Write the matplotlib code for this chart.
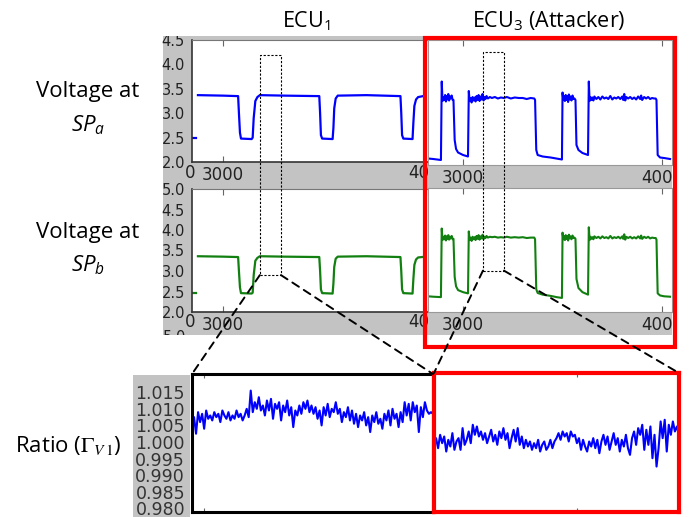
import matplotlib
matplotlib.use('Agg')
import matplotlib.pyplot as plt
import numpy as np
from matplotlib.patches import Rectangle, ConnectionPatch
from matplotlib.transforms import Bbox, TransformedBbox

# ---------------- data ----------------
ecu1_t = [2878, 3000, 3074, 3078, 3083, 3088, 3140, 3145, 3150, 3158, 3168, 3180, 3300,
          3470, 3474, 3478, 3484, 3535, 3539, 3543, 3550, 3560, 3700,
          3866, 3870, 3874, 3880, 3925, 3929, 3934, 3942, 3952, 3988]
spa_ecu1 = [3.37, 3.36, 3.35, 3.00, 2.60, 2.48, 2.47, 2.50, 2.90, 3.25, 3.33, 3.37, 3.36,
            3.35, 3.00, 2.55, 2.48, 2.47, 2.70, 3.10, 3.30, 3.36, 3.37,
            3.35, 3.00, 2.55, 2.48, 2.47, 2.80, 3.15, 3.28, 3.33, 3.36]
spb_ecu1 = [3.36, 3.35, 3.34, 3.00, 2.60, 2.46, 2.45, 2.47, 2.90, 3.25, 3.32, 3.36, 3.35,
            3.34, 3.00, 2.55, 2.46, 2.45, 2.70, 3.10, 3.30, 3.35, 3.36,
            3.34, 3.00, 2.55, 2.46, 2.45, 2.80, 3.15, 3.28, 3.33, 3.35]
edge_t = [2852, 2868]
spa_edge = [2.50, 2.50]
spb_edge = [2.47, 2.47]

ecu3_t = [2824, 2850, 2889, 2893, 2897, 2902, 2906, 2910, 2914, 2918,
          2922, 2926, 2930, 2934, 2938, 2943, 2948, 2952, 2958, 2965,
          2975, 3000, 3025, 3029, 3033, 3038, 3043, 3048, 3053, 3058,
          3063, 3068, 3073, 3078, 3083, 3088, 3093, 3098, 3103, 3108,
          3113, 3118, 3125, 3135, 3145, 3160, 3175, 3190, 3205, 3220,
          3240, 3260, 3280, 3300, 3320, 3340, 3358, 3362, 3368, 3375,
          3400, 3440, 3470, 3497, 3500, 3504, 3508, 3512, 3516, 3520,
          3524, 3528, 3532, 3536, 3540, 3545, 3550, 3555, 3560, 3565,
          3570, 3580, 3600, 3628, 3632, 3636, 3640, 3645, 3650, 3655,
          3660, 3670, 3680, 3690, 3700, 3710, 3720, 3730, 3740, 3750,
          3760, 3770, 3780, 3790, 3800, 3805, 3810, 3815, 3820, 3830,
          3840, 3850, 3860, 3870, 3880, 3890, 3895, 3900, 3910, 3920,
          3930, 3940, 3950, 3960, 3968, 3972, 3978, 3990, 4010, 4040]
spa_ecu3 = [2.13, 2.12, 2.10, 3.67, 3.28, 3.36, 3.30, 3.40, 3.27, 3.38,
            3.31, 3.42, 3.29, 3.37, 3.33, 3.39, 3.30, 3.30, 2.50, 2.32,
            2.25, 2.20, 2.17, 3.48, 3.28, 3.34, 3.25, 3.36, 3.29, 3.35,
            3.27, 3.38, 3.30, 3.40, 3.28, 3.37, 3.31, 3.42, 3.29, 3.36,
            3.32, 3.38, 3.33, 3.36, 3.34, 3.36, 3.33, 3.35, 3.34, 3.36,
            3.33, 3.35, 3.34, 3.34, 3.32, 3.34, 3.33, 3.30, 2.30, 2.20,
            2.17, 2.15, 2.13, 2.11, 3.45, 3.30, 3.38, 3.28, 3.40, 3.30,
            3.38, 3.26, 3.41, 3.31, 3.37, 3.29, 3.39, 3.32, 3.33, 3.30,
            2.40, 2.30, 2.24, 2.20, 3.67, 3.28, 3.36, 3.30, 3.35, 3.29,
            3.37, 3.32, 3.36, 3.31, 3.37, 3.33, 3.35, 3.32, 3.38, 3.31,
            3.35, 3.33, 3.36, 3.32, 3.37, 3.30, 3.42, 3.29, 3.36, 3.33,
            3.36, 3.32, 3.35, 3.31, 3.37, 3.32, 3.39, 3.30, 3.36, 3.33,
            3.36, 3.32, 3.34, 3.33, 3.33, 3.30, 2.20, 2.15, 2.14, 2.12]
spb_ecu3 = [2.38, 2.37, 2.36, 4.02, 3.74, 3.82, 3.76, 3.85, 3.73, 3.83,
            3.77, 3.86, 3.75, 3.82, 3.78, 3.84, 3.76, 3.77, 2.85, 2.62,
            2.53, 2.48, 2.45, 3.95, 3.74, 3.80, 3.72, 3.82, 3.76, 3.81,
            3.74, 3.84, 3.77, 3.86, 3.75, 3.83, 3.78, 3.87, 3.76, 3.82,
            3.79, 3.84, 3.80, 3.82, 3.81, 3.82, 3.80, 3.81, 3.80, 3.82,
            3.80, 3.81, 3.80, 3.81, 3.79, 3.80, 3.80, 3.76, 2.55, 2.46,
            2.42, 2.39, 2.36, 2.34, 3.92, 3.76, 3.84, 3.74, 3.86, 3.77,
            3.84, 3.73, 3.87, 3.78, 3.83, 3.76, 3.85, 3.79, 3.80, 3.77,
            2.80, 2.58, 2.48, 2.42, 4.05, 3.74, 3.82, 3.77, 3.81, 3.76,
            3.83, 3.79, 3.82, 3.78, 3.83, 3.79, 3.81, 3.78, 3.84, 3.78,
            3.81, 3.79, 3.82, 3.78, 3.83, 3.77, 3.88, 3.75, 3.82, 3.79,
            3.82, 3.78, 3.81, 3.78, 3.83, 3.78, 3.85, 3.77, 3.82, 3.79,
            3.82, 3.78, 3.80, 3.79, 3.79, 3.75, 2.45, 2.40, 2.38, 2.37]

ratio_ecu1 = [1.0030, 1.0075, 1.0025, 1.0090, 1.0060, 1.0085, 1.0040, 1.0095, 1.0070, 1.0080,
              1.0065, 1.0090, 1.0075, 1.0085, 1.0060, 1.0095, 1.0080, 1.0070, 1.0090, 1.0065,
              1.0080, 1.0070, 1.0095, 1.0075, 1.0085, 1.0065, 1.0080, 1.0100, 1.0075, 1.0155,
              1.0090, 1.0120, 1.0100, 1.0135, 1.0095, 1.0110, 1.0080, 1.0125, 1.0095, 1.0130,
              1.0070, 1.0115, 1.0100, 1.0120, 1.0065, 1.0110, 1.0090, 1.0125, 1.0080, 1.0105,
              1.0045, 1.0095, 1.0080, 1.0110, 1.0085, 1.0120, 1.0100, 1.0125, 1.0090, 1.0110,
              1.0085, 1.0105, 1.0070, 1.0095, 1.0050, 1.0105, 1.0080, 1.0115, 1.0075, 1.0100,
              1.0090, 1.0120, 1.0085, 1.0100, 1.0060, 1.0090, 1.0075, 1.0105, 1.0065, 1.0095,
              1.0055, 1.0085, 1.0045, 1.0080, 1.0065, 1.0090, 1.0050, 1.0075, 1.0030, 1.0080,
              1.0060, 1.0090, 1.0055, 1.0070, 1.0040, 1.0085, 1.0065, 1.0095, 1.0050, 1.0100,
              1.0070, 1.0085, 1.0045, 1.0090, 1.0060, 1.0120, 1.0080, 1.0115, 1.0065, 1.0120,
              1.0090, 1.0110, 1.0030, 1.0105, 1.0075, 1.0120, 1.0095, 1.0085, 1.0090, 1.0085]
ratio_ecu3 = [0.9990, 1.0010, 0.9980, 1.0020, 0.9995, 1.0015, 0.9970, 1.0005, 0.9985, 1.0025,
              0.9975, 1.0000, 1.0010, 0.9975, 1.0040, 0.9990, 1.0005, 1.0030, 0.9995, 1.0050,
              1.0020, 1.0045, 1.0015, 1.0030, 1.0005, 1.0025, 0.9995, 1.0015, 1.0035, 1.0000,
              1.0020, 0.9990, 1.0030, 1.0010, 1.0040, 1.0005, 1.0025, 0.9980, 1.0010, 1.0035,
              1.0000, 1.0040, 0.9990, 1.0015, 0.9980, 1.0005, 0.9985, 1.0000, 0.9975, 0.9995,
              0.9980, 1.0005, 0.9970, 0.9990, 1.0000, 0.9975, 0.9985, 1.0005, 0.9980, 1.0000,
              1.0010, 1.0025, 1.0005, 1.0030, 1.0015, 1.0025, 1.0000, 1.0030, 1.0015, 1.0020,
              0.9995, 1.0010, 0.9975, 1.0005, 0.9985, 0.9970, 1.0000, 0.9985, 1.0010, 0.9980,
              1.0005, 0.9965, 1.0000, 1.0020, 0.9990, 1.0015, 0.9975, 1.0000, 1.0025, 0.9990,
              1.0010, 0.9970, 1.0005, 0.9985, 1.0020, 0.9980, 0.9960, 1.0010, 1.0030, 0.9990,
              1.0040, 1.0020, 1.0050, 0.9975, 1.0035, 0.9990, 1.0045, 0.9950, 1.0020, 0.9925,
              0.9980, 1.0060, 1.0010, 1.0065, 0.9970, 1.0050, 1.0020, 1.0060, 1.0030, 1.0045,
              1.0020]

volt_a_ticks = [2.0, 2.5, 3.0, 3.5, 4.0, 4.5]
volt_b_ticks = [2.0, 2.5, 3.0, 3.5, 4.0, 4.5, 5.0]
time_ticks = [3000, 4000]
ecu1_time_labels = ['3000', '']      # the 4000 label is cut to "40" by the red frame
ecu3_time_labels = ['3000', '4000']
ratio_ticks = [0.980, 0.985, 0.990, 0.995, 1.000, 1.005, 1.010, 1.015]
ratio_l_xticks = [6]
ratio_r_xticks = [70]
ecu1_zoom_t = [3180, 3283]
ecu3_zoom_t = [3100, 3206]
zoom_a_top = [4.2, 4.26]     # top of the zoom windows (SPa panels, ECU1 / ECU3)
zoom_b_bot = [2.9, 3.0]      # bottom of the zoom windows (SPb panels, ECU1 / ECU3)

# ---------------- figure ----------------
W, H = 691, 517
plt.rcParams['mathtext.fontset'] = 'custom'
plt.rcParams['mathtext.rm'] = 'Open Sans'
plt.rcParams['mathtext.it'] = 'Open Sans:italic'
plt.rcParams['mathtext.bf'] = 'Open Sans:bold'
plt.rcParams['font.family'] = 'DejaVu Sans'

fig = plt.figure(figsize=(W / 100, H / 100), dpi=100)
fig.patch.set_facecolor('white')


def rect(x0, y0, x1, y1):
    return [x0 / W, 1 - y1 / H, (x1 - x0) / W, (y1 - y0) / H]


GRAY = '#c3c3c3'
BLUE = '#0000ff'
GREEN = '#118011'
TXT = '#222222'


def plain(ax, color=GRAY):
    ax.set_facecolor(color)
    ax.set_xticks([])
    ax.set_yticks([])
    for s in ax.spines.values():
        s.set_visible(False)


bg = fig.add_axes(rect(163, 36, 672, 335), zorder=0)
plain(bg)
bg.set_xlim(163, 672)
bg.set_ylim(335, 36)
bg2 = fig.add_axes(rect(133, 375, 190, 517), zorder=0)
plain(bg2)

# stray fragments of neighbouring tick labels in the screenshot strips
bg.text(190, 173, '0', fontsize=12, color=TXT, ha='center', va='center', clip_on=True)
bg.text(190, 322, '0', fontsize=12, color=TXT, ha='center', va='center', clip_on=True)
bg.text(186, 338, '5.0', fontsize=10.5, color=TXT, ha='right', va='center', clip_on=True)
bg.text(408, 173, '40', fontsize=12, color=TXT, ha='left', va='center', clip_on=True)
bg.text(408, 322, '40', fontsize=12, color=TXT, ha='left', va='center', clip_on=True)

clip_ecu3 = TransformedBbox(Bbox.from_extents(0, 0, 672 / W, 1), fig.transFigure)


def volt_axes(r, xlim, ylim, yticks, show_y, xlabels, z):
    ax = fig.add_axes(r, zorder=z)
    ax.set_facecolor('white')
    ax.set_xlim(*xlim)
    ax.set_ylim(*ylim)
    ax.set_xticks(time_ticks)
    ax.set_xticklabels(xlabels, fontsize=12, color=TXT)
    ax.tick_params(axis='x', direction='in', top=True, length=4, width=0.8,
                   color='#666666', pad=3)
    if show_y:
        ax.set_yticks(yticks)
        ax.set_yticklabels(['%.1f' % v for v in yticks], fontsize=10.5, color=TXT)
        ax.tick_params(axis='y', direction='in', length=0, pad=5)
        ax.spines['left'].set_color('#333333')
        ax.spines['left'].set_linewidth(1.2)
        ax.spines['bottom'].set_color('#333333')
        ax.spines['bottom'].set_linewidth(1.2)
        ax.spines['top'].set_color('#777777')
        ax.spines['top'].set_linewidth(0.8)
        ax.spines['right'].set_visible(False)
    else:
        ax.set_yticks([])
        for s in ax.spines.values():
            s.set_color('#999999')
            s.set_linewidth(0.8)
        for tk in ax.xaxis.get_major_ticks():
            tk.label1.set_clip_box(clip_ecu3)
            tk.label1.set_clip_on(True)
    return ax


ecu1_xlim = (2849, 4059)
ecu3_xlim = (2824, 4050)
A1 = volt_axes(rect(192, 40, 440, 162), ecu1_xlim, (2.0, 4.5), volt_a_ticks, True, ecu1_time_labels, 2)
B1 = volt_axes(rect(192, 189, 440, 312), ecu1_xlim, (2.0, 5.0), volt_b_ticks, True, ecu1_time_labels, 2)
A3 = volt_axes(rect(428, 40, 672, 165), ecu3_xlim, (2.0, 4.5), volt_a_ticks, False, ecu3_time_labels, 3)
B3 = volt_axes(rect(428, 188, 672, 312), ecu3_xlim, (2.0, 5.0), volt_b_ticks, False, ecu3_time_labels, 3)

A1.plot(ecu1_t, spa_ecu1, color=BLUE, lw=1.6)
A1.plot(edge_t, spa_edge, color=BLUE, lw=1.6)
B1.plot(ecu1_t, spb_ecu1, color=GREEN, lw=1.6)
B1.plot(edge_t, spb_edge, color=GREEN, lw=1.6)
A3.plot(ecu3_t, spa_ecu3, color=BLUE, lw=1.5)
B3.plot(ecu3_t, spb_ecu3, color=GREEN, lw=1.5)

# ratio panels
ratio_ylim = (0.9789, 1.0205)
RL = fig.add_axes(rect(192, 374, 433, 512), zorder=4)
RL.plot(np.arange(len(ratio_ecu1)), ratio_ecu1, color=BLUE, lw=1.5)
RL.set_xlim(0, len(ratio_ecu1) - 1)
RL.set_ylim(*ratio_ylim)
RL.set_yticks(ratio_ticks)
RL.set_yticklabels(['%.3f' % v for v in ratio_ticks], fontsize=12.5, color='#333333')
RL.set_xticks(ratio_l_xticks)
RL.set_xticklabels([])
RL.tick_params(axis='y', length=0, pad=5)
RL.tick_params(axis='x', direction='in', top=True, length=3, color='#666666')
for s in RL.spines.values():
    s.set_color('black')
    s.set_linewidth(2.2)

RR = fig.add_axes(rect(434, 373, 679, 512), zorder=5)
RR.plot(np.arange(len(ratio_ecu3)), ratio_ecu3, color=BLUE, lw=1.5)
RR.set_xlim(0, len(ratio_ecu3) - 1)
RR.set_ylim(*ratio_ylim)
RR.set_yticks([])
RR.set_xticks(ratio_r_xticks)
RR.set_xticklabels([])
RR.tick_params(axis='x', direction='in', top=True, length=3, color='#666666')
for s in RR.spines.values():
    s.set_color('#ff0000')
    s.set_linewidth(3.0)

# red frame around the attacker voltage panels
fig.add_artist(Rectangle((425 / W, 1 - 347 / H), 250 / W, 309 / H, fill=False,
                         ec='#ff0000', lw=3.0, transform=fig.transFigure, zorder=10))


def to_fig(ax, x, y):
    return fig.transFigure.inverted().transform(ax.transData.transform((x, y)))


# zoom windows and connectors
for (ta, tb), atop, bbot, axa, axb, rax in [
        (ecu1_zoom_t, zoom_a_top[0], zoom_b_bot[0], A1, B1, RL),
        (ecu3_zoom_t, zoom_a_top[1], zoom_b_bot[1], A3, B3, RR)]:
    p0 = to_fig(axa, ta, atop)
    p1 = to_fig(axb, tb, bbot)
    fig.add_artist(Rectangle((p0[0], p1[1]), p1[0] - p0[0], p0[1] - p1[1], fill=False,
                             ec='black', lw=0.8, ls=(0, (2, 1.5)),
                             transform=fig.transFigure, zorder=11))
    for tx, fx in [(ta, 0), (tb, 1)]:
        con = ConnectionPatch(xyA=(tx, bbot), coordsA=axb.transData,
                              xyB=(fx, 1), coordsB=rax.transAxes,
                              color='black', lw=1.4, ls=(0, (4, 3)), zorder=11)
        fig.add_artist(con)

# overlay for labels
ov = fig.add_axes([0, 0, 1, 1], zorder=20)
ov.set_xlim(0, W)
ov.set_ylim(H, 0)
ov.axis('off')
ov.add_patch(Rectangle((140, 0), 52, 36, fc='white', ec='none'))

tf = dict(family='Open Sans', color='black', math_fontfamily='custom')
ov.text(306, 27, 'ECU$_1$', fontsize=15.5, ha='center', va='baseline', **tf)
ov.text(549, 27, 'ECU$_3$ (Attacker)', fontsize=15.5, ha='center', va='baseline', **tf)
ov.text(88, 97, 'Voltage at', fontsize=16, ha='center', va='baseline', **tf)
ov.text(88, 131, '$SP_a$', fontsize=16, ha='center', va='baseline', **tf)
ov.text(88, 238, 'Voltage at', fontsize=16, ha='center', va='baseline', **tf)
ov.text(88, 271, '$SP_b$', fontsize=16, ha='center', va='baseline', **tf)
ov.text(15, 452, r'Ratio ($\Gamma_{V\,1}$)', fontsize=16, ha='left', va='baseline',
        family='Open Sans', color='black', math_fontfamily='stix')

fig.savefig('out.png', dpi=100)
